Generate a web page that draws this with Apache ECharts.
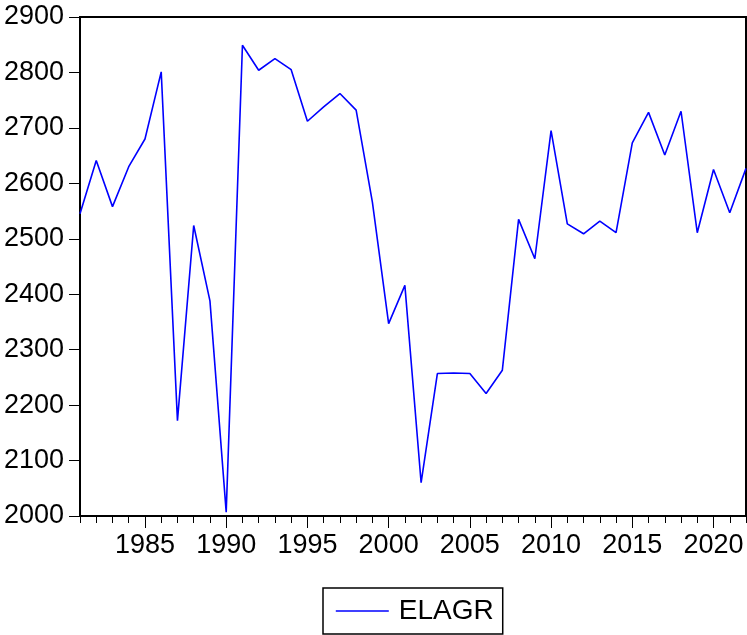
<!DOCTYPE html>
<html>
<head>
<meta charset="utf-8">
<script src="https://cdn.jsdelivr.net/npm/echarts@6/dist/echarts.min.js"></script>
<style>
html,body{margin:0;padding:0;background:#fff;}
#chart{width:747px;height:635px;}
</style>
</head>
<body>
<div id="chart"></div>
<script>
const years = [];
for (let y = 1981; y <= 2022; y++) years.push(y);
const elagr = [2545,2641,2558,2630,2680,2801,2172,2524,2388,2007,
               2849,2804,2825,2805,2712,2738,2762,2732,2566,2347,
               2416,2060,2257,2258,2257,2221,2263,2535,2464,2695,
               2527,2509,2532,2511,2673,2728,2651,2730,2511,2625,
               2547,2627];
const xLabelYears = [1985,1990,1995,2000,2005,2010,2015,2020];
const yTicks = [2000,2100,2200,2300,2400,2500,2600,2700,2800,2900];
const seriesName = 'ELAGR';

const font = '"Liberation Sans", Arial, sans-serif';
const chart = echarts.init(document.getElementById('chart'), null, {renderer:'canvas'});
chart.setOption({
  animation: false,
  backgroundColor: '#fff',
  grid: {left: 80, right: 1, top: 17, bottom: 119, outerBoundsMode: 'none', containLabel: false,
         show: true, borderColor: '#000', borderWidth: 2, backgroundColor: 'transparent'},
  legend: {
    data: [seriesName],
    left: 323, top: 588,
    padding: [9, 9, 9, 12],
    borderColor: '#000', borderWidth: 1.5,
    itemWidth: 53, itemHeight: 14, itemGap: 10,
    itemStyle: {opacity: 0},
    lineStyle: {color: '#0000ff', width: 1.6},
    textStyle: {fontFamily: font, fontSize: 28, color: '#000', padding: [0, 0, 0, 5]}
  },
  xAxis: [{
    type: 'value', min: 1981, max: 2022, interval: 1,
    axisLine: {show: true, lineStyle: {color: '#000', width: 2}},
    axisTick: {show: true, length: 7, lineStyle: {color: '#000', width: 1}},
    axisLabel: {customValues: xLabelYears, formatter: v => String(v), fontFamily: font, fontSize: 27, color: '#000', margin: 16},
    splitLine: {show: false}
  }, {
    type: 'value', min: 1981, max: 2022, position: 'bottom',
    axisLine: {show: false},
    axisTick: {show: true, length: 12, customValues: xLabelYears, lineStyle: {color: '#000', width: 1}},
    axisLabel: {show: false},
    splitLine: {show: false}
  }],
  yAxis: {
    type: 'value', min: 2000, max: 2900, interval: 100,
    axisLine: {show: true, lineStyle: {color: '#000', width: 2}},
    axisTick: {show: true, length: 11, lineStyle: {color: '#000', width: 1}},
    axisLabel: {customValues: yTicks, formatter: v => String(v), fontFamily: font, fontSize: 27, color: '#000', margin: 16},
    splitLine: {show: false}
  },
  series: [{
    name: seriesName, type: 'line', xAxisIndex: 0,
    data: years.map((y, i) => [y, elagr[i]]),
    symbol: 'none', showSymbol: false,
    lineStyle: {color: '#0000ff', width: 1.6},
    itemStyle: {color: '#0000ff'}
  }]
});
</script>
</body>
</html>
